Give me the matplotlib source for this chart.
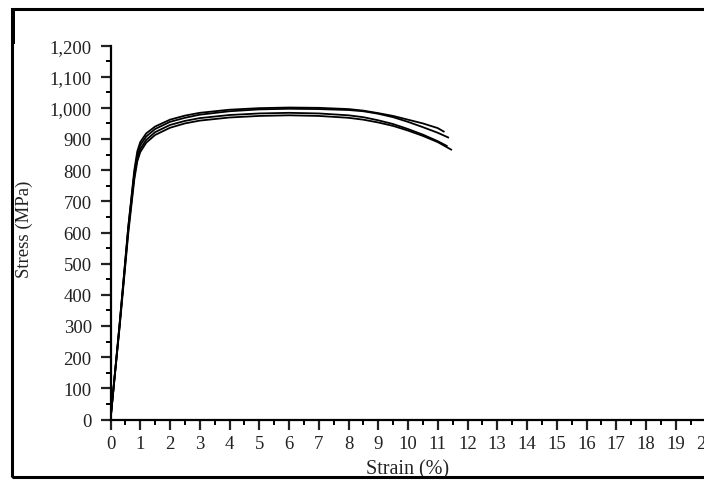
import matplotlib.pyplot as plt
from matplotlib.ticker import MultipleLocator, FixedLocator
from matplotlib.patches import Rectangle

# tensile curves (strain %, stress MPa)
strain_a = [0, 0.3, 0.6, 0.8, 0.9, 1.0, 1.2, 1.5, 2.0, 2.5, 3.0, 4.0, 5.0, 6.0, 7.0, 8.0, 8.5, 9.0, 9.5, 10.0, 10.5, 11.0, 11.2]
stress_a = [0, 300, 620, 800, 860, 890, 918, 940, 962, 975, 984, 994, 999, 1001, 1000, 996, 991, 983, 974, 962, 950, 935, 924]

strain_b = [0, 0.3, 0.6, 0.8, 0.9, 1.0, 1.2, 1.5, 2.0, 2.5, 3.0, 4.0, 5.0, 6.0, 7.0, 8.0, 8.5, 9.0, 9.5, 10.0, 10.5, 11.0, 11.35]
stress_b = [0, 300, 620, 790, 848, 880, 908, 932, 955, 968, 978, 989, 995, 997, 996, 993, 989, 981, 970, 955, 938, 920, 905]

strain_c = [0, 0.3, 0.6, 0.8, 0.9, 1.0, 1.2, 1.5, 2.0, 2.5, 3.0, 4.0, 5.0, 6.0, 7.0, 8.0, 8.5, 9.0, 9.5, 10.0, 10.5, 11.0, 11.3]
stress_c = [0, 295, 610, 780, 838, 868, 897, 922, 945, 958, 967, 977, 982, 984, 982, 976, 970, 960, 948, 932, 914, 893, 878]

strain_d = [0, 0.3, 0.6, 0.8, 0.9, 1.0, 1.2, 1.5, 2.0, 2.5, 3.0, 4.0, 5.0, 6.0, 7.0, 8.0, 8.5, 9.0, 9.5, 10.0, 10.5, 11.0, 11.45]
stress_d = [0, 290, 600, 770, 828, 858, 888, 913, 936, 950, 959, 969, 974, 976, 974, 968, 962, 953, 942, 927, 910, 890, 866]

x_ticks = list(range(0, 21))
y_ticks = list(range(0, 1201, 100))
y_labels = [f"{v:,}" for v in y_ticks]

plt.rcParams["font.family"] = "Liberation Serif"

fig = plt.figure(figsize=(7.04, 4.81), dpi=100)

# outer frame of the scanned figure
fig.patches.append(Rectangle((12 / 704, 3 / 481), 700 / 704, 468 / 481,
                             transform=fig.transFigure, fill=False,
                             edgecolor="black", linewidth=2.2))
fig.patches.append(Rectangle((12 / 704, 436 / 481), 3 / 704, 35 / 481,
                             transform=fig.transFigure, facecolor="black",
                             edgecolor="none"))

ax = fig.add_axes([110.5 / 704, 60.5 / 481, 595 / 704, 374 / 481])

for xs, ys in [(strain_a, stress_a), (strain_b, stress_b),
               (strain_c, stress_c), (strain_d, stress_d)]:
    ax.plot(xs, ys, color="black", linewidth=1.3)

ax.set_xlim(0, 20)
ax.set_ylim(0, 1200)

ax.xaxis.set_major_locator(FixedLocator(x_ticks))
ax.xaxis.set_minor_locator(MultipleLocator(0.5))
ax.yaxis.set_major_locator(FixedLocator(y_ticks))
ax.yaxis.set_minor_locator(MultipleLocator(50))
ax.set_yticklabels(y_labels)

ax.spines["top"].set_visible(False)
ax.spines["right"].set_visible(False)
ax.spines["left"].set_linewidth(1.6)
ax.spines["bottom"].set_linewidth(1.6)

ax.tick_params(which="major", direction="out", length=7, width=1.6,
               labelsize=13.5, colors="#222222")
ax.tick_params(which="minor", direction="out", length=3.5, width=1.4)
ax.tick_params(axis="y", pad=6.5)
ax.tick_params(axis="x", pad=4.5)

ax.set_xlabel("Strain (%)", fontsize=14.5, labelpad=5, color="#222222")
fig.text(24 / 704, 1 - 229 / 481, "Stress (MPa)", rotation=90,
         ha="center", va="center", fontsize=13.5, color="#222222")

fig.savefig("out.png", dpi=100)
